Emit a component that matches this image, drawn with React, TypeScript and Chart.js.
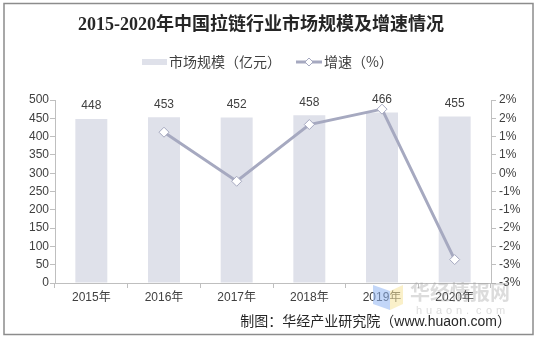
import React, { useEffect, useRef } from "react";
import { Chart, registerables } from "chart.js";

Chart.register(...registerables);

const years = ["2015年", "2016年", "2017年", "2018年", "2019年", "2020年"];
const marketSize = [448, 453, 452, 458, 466, 455]; // 亿元
const growthRate = [null, 1.12, -0.22, 1.33, 1.75, -2.36]; // %

const titleText = "2015-2020年中国拉链行业市场规模及增速情况";
const barLegend = "市场规模（亿元）";
const lineLegend = "增速（%）";
const sourceText = "制图：华经产业研究院（www.huaon.com）";

const BAR_COLOR = "#dfe1ea";
const LINE_COLOR = "#a6a9c0";
const AXIS_COLOR = "#bfbfbf";
const TEXT_COLOR = "#404040";
const SANS = '"Liberation Sans", Arial, "Noto Sans CJK SC", sans-serif';

// Excel-style percent label: round half away from zero
const pct = (v: number) => {
  const r = Math.sign(v) * Math.round(Math.abs(v));
  return (r === 0 ? 0 : r) + "%";
};

const decorPlugin = {
  id: "decor",
  afterDraw(chart: any) {
    const ctx = chart.ctx as CanvasRenderingContext2D;
    ctx.save();

    // outer frame
    ctx.strokeStyle = "#8c8c8c";
    ctx.lineWidth = 1.5;
    ctx.strokeRect(4, 3.5, 529, 331);

    // title
    ctx.fillStyle = "#262626";
    ctx.font = 'bold 18px "Liberation Serif", "Noto Sans CJK SC", serif';
    ctx.textAlign = "center";
    ctx.textBaseline = "middle";
    ctx.fillText(titleText, 261, 25);

    // legend
    ctx.font = '14px "Noto Sans CJK SC", sans-serif';
    ctx.textAlign = "left";
    ctx.fillStyle = BAR_COLOR;
    ctx.fillRect(142, 59, 25, 6);
    ctx.fillStyle = TEXT_COLOR;
    ctx.fillText(barLegend, 169, 62);

    ctx.strokeStyle = LINE_COLOR;
    ctx.lineWidth = 3;
    ctx.beginPath();
    ctx.moveTo(296, 62);
    ctx.lineTo(322, 62);
    ctx.stroke();
    ctx.fillStyle = "#ffffff";
    ctx.lineWidth = 1;
    ctx.beginPath();
    ctx.moveTo(309, 58);
    ctx.lineTo(313, 62);
    ctx.lineTo(309, 66);
    ctx.lineTo(305, 62);
    ctx.closePath();
    ctx.fill();
    ctx.stroke();
    ctx.fillStyle = TEXT_COLOR;
    ctx.fillText(lineLegend, 324, 62);

    // watermark
    ctx.globalAlpha = 0.55;
    ctx.fillStyle = "#8fb5f2";
    ctx.beginPath();
    ctx.moveTo(373, 285);
    ctx.lineTo(390, 291);
    ctx.lineTo(390, 310);
    ctx.lineTo(373, 304);
    ctx.closePath();
    ctx.fill();
    ctx.fillStyle = "#f6e39c";
    ctx.beginPath();
    ctx.moveTo(390, 291);
    ctx.lineTo(403, 285);
    ctx.lineTo(403, 304);
    ctx.lineTo(390, 310);
    ctx.closePath();
    ctx.fill();
    ctx.globalAlpha = 0.35;
    ctx.fillStyle = "#9a9a9a";
    ctx.font = 'bold 20px "Noto Sans CJK SC", sans-serif';
    ctx.fillText("华经情报网", 410, 292);
    ctx.font = '11px "Liberation Sans", sans-serif';
    const letters = "huaon.com";
    for (let i = 0; i < letters.length; i++) {
      ctx.fillText(letters[i], 416 + i * 10, 311);
    }
    ctx.globalAlpha = 1;

    // source
    ctx.fillStyle = "#262626";
    ctx.font = '14px "Liberation Sans", "Noto Sans CJK SC", sans-serif';
    ctx.textAlign = "right";
    ctx.fillText(sourceText, 511, 322);

    ctx.restore();
  },
};

const barLabelPlugin = {
  id: "barLabels",
  afterDatasetsDraw(chart: any) {
    const ctx = chart.ctx as CanvasRenderingContext2D;
    const meta = chart.getDatasetMeta(0);
    ctx.save();
    ctx.fillStyle = TEXT_COLOR;
    ctx.font = "12px " + SANS;
    ctx.textAlign = "center";
    ctx.textBaseline = "middle";
    meta.data.forEach((bar: any, i: number) => {
      ctx.fillText(String(marketSize[i]), bar.x, bar.y - 13);
    });
    ctx.restore();
  },
};

export default function App() {
  const canvasRef = useRef<HTMLCanvasElement | null>(null);

  useEffect(() => {
    const canvas = canvasRef.current;
    if (!canvas) return;
    const chart = new Chart(canvas, {
      type: "bar",
      data: {
        labels: years,
        datasets: [
          {
            type: "bar",
            label: barLegend,
            data: marketSize,
            backgroundColor: BAR_COLOR,
            categoryPercentage: 1,
            barPercentage: 0.44,
            yAxisID: "y",
            order: 1,
          },
          {
            type: "line",
            label: lineLegend,
            data: growthRate as any,
            borderColor: LINE_COLOR,
            borderWidth: 3,
            pointStyle: "rectRot",
            pointRadius: 5,
            pointBackgroundColor: "#ffffff",
            pointBorderColor: LINE_COLOR,
            pointBorderWidth: 1,
            yAxisID: "y1",
            order: 0,
            tension: 0,
          },
        ],
      },
      options: {
        responsive: false,
        animation: false,
        devicePixelRatio: 1,
        layout: { padding: { top: 100, bottom: 25, left: 0, right: 0 } },
        plugins: {
          legend: { display: false },
          title: { display: false },
          tooltip: { enabled: false },
        },
        scales: {
          x: {
            offset: true,
            grid: {
              display: true,
              offset: true,
              drawOnChartArea: false,
              tickLength: 5,
              color: AXIS_COLOR,
            },
            border: { color: AXIS_COLOR },
            ticks: { color: TEXT_COLOR, font: { size: 12, family: SANS }, padding: 2 },
            afterFit: (s: any) => {
              s.height = 30;
            },
          },
          y: {
            position: "left",
            min: 0,
            max: 500,
            grid: { drawOnChartArea: false, tickLength: 5, color: AXIS_COLOR },
            border: { color: AXIS_COLOR },
            ticks: { stepSize: 50, color: TEXT_COLOR, font: { size: 12, family: SANS }, padding: 1 },
            afterFit: (s: any) => {
              s.width = 55;
            },
          },
          y1: {
            position: "right",
            min: -3,
            max: 2,
            grid: { drawOnChartArea: false, tickLength: 5, color: AXIS_COLOR },
            border: { color: AXIS_COLOR },
            ticks: {
              stepSize: 0.5,
              color: TEXT_COLOR,
              font: { size: 12, family: SANS },
              padding: 3,
              callback: (v: any) => pct(Number(v)),
            },
            afterFit: (s: any) => {
              s.width = 45;
            },
          },
        },
      },
      plugins: [barLabelPlugin, decorPlugin],
    });
    return () => chart.destroy();
  }, []);

  return (
    <div style={{ position: "absolute", left: 0, top: 0, width: 536, height: 338, background: "#ffffff" }}>
      <canvas ref={canvasRef} width={536} height={338} style={{ display: "block" }} />
    </div>
  );
}
